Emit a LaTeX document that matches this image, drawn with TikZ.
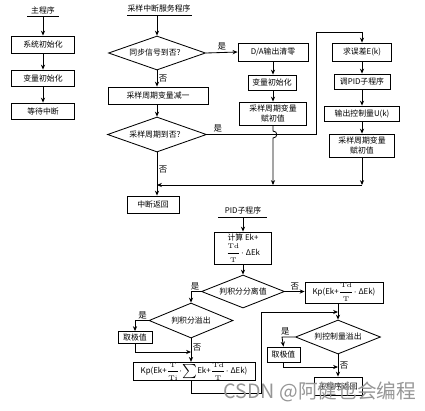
\documentclass[tikz,border=0pt]{standalone}
\usepackage{fontspec}
\newfontfamily\cjk{Noto Sans CJK SC}
\usepackage{tikz}
\usetikzlibrary{
    arrows.meta,
    calc,
    shapes.geometric
}
\newlength\pix
\setlength\pix{0.025cm}
\newcommand\fr[2]{{\fontsize{4.8}{5}\selectfont$\displaystyle\frac{\mathrm{#1}}{\mathrm{#2}}$}}
\definecolor{wmgray}{RGB}{150,150,150}
\tikzset{
    >={Stealth[length=3.5pt, width=3pt]},
    every node/.style={font=\cjk\fontsize{5.6}{7}\selectfont},
    box/.style args={#1x#2}{draw, line width=0.6pt, minimum width=#1\pix, minimum height=#2\pix, inner sep=0pt, align=center},
    dia/.style args={#1x#2}{draw, line width=0.6pt, diamond, aspect=2.5, minimum width=#1\pix, minimum height=#2\pix, inner sep=0pt},
    lbl/.style={font=\cjk\fontsize{6}{7}\selectfont, inner sep=1pt}
}

\begin{document}
\begin{tikzpicture}[x=\pix, y=-\pix, line width=0.6pt]
            \useasboundingbox (0,0) rectangle (425,410);

            % Main program
            \node (mtitle) at (43,10) {主程序};
            \coordinate (mtl) at (27,16);
            \coordinate (mtr) at (59,16);
            \coordinate (mtop) at (43,16);
            \node[box=63x17] (m1) at (43,44.5) {系统初始化};
            \node[box=63x16] (m2) at (43,78) {变量初始化};
            \node[box=63x16] (m3) at (43,111) {等待中断};
            \draw (mtl) -- (mtr);
            \draw[->] (mtop) -- (m1);
            \draw[->] (m1) -- (m2);
            \draw[->] (m2) -- (m3);

            % Sampling interrupt
            \node (stitle) at (159,9) {采样中断服务程序};
            \coordinate (stl) at (127,15);
            \coordinate (str) at (192,15);
            \coordinate (stop) at (157,15);
            \node[dia=97x34] (d1) at (157,53) {同步信号到否？};
            \node[box=100x17] (s1) at (158,95.5) {采样周期变量减一};
            \node[dia=99x35] (d2) at (157,134.5) {采样周期到否？};
            \node[box=70x18] (a1) at (273,52) {D/A输出清零};
            \node[box=48x15] (a2) at (272,82.5) {变量初始化};
            \node[box=67x23] (a3) at (273,113.5) {采样周期变量\\赋初值};
            \node[box=59x18] (b1) at (362,52) {求误差E(k)};
            \node[box=56x15] (b2) at (362,81.5) {调PID子程序};
            \node[box=75x15] (b3) at (362,113.5) {输出控制量U(k)};
            \node[box=65x23] (b4) at (362,145.5) {采样周期变量\\赋初值};
            \node[box=52x17] (ret) at (153,204.5) {中断返回};
            \coordinate (yup) at (316,32);
            \coordinate (jn) at (157,185);
            \coordinate (br1) at (273,131);
            \coordinate (br2) at (273,138);
            \draw (stl) -- (str);
            \draw[->] (stop) -- (d1.north);
            \draw[->] (d1.south) -- node[lbl, right] (no1) {否} (d1.south |- s1.north);
            \draw[->] (d1.east) -- node[lbl, above] (yes1) {是} (a1.west);
            \draw[->] (s1.south -| d2.north) -- (d2.north);
            \draw[->] (a1.south) -- (a1.south |- a2.north);
            \draw[->] (a2.south -| a1.south) -- (a1.south |- a3.north);
            \draw[->] (d2.east) -- node[lbl, above, pos=0.1] (yes2) {是} (d2.east -| yup) -- (yup) -| (b1.north);
            \draw[->] (b1) -- (b2);
            \draw[->] (b2) -- (b3);
            \draw[->] (b3) -- (b4);
            \draw[->] (a3.south) -- (br1) .. controls ($(br1)+(5,0)$) and ($(br2)+(5,0)$) .. (br2) -- (br2 |- jn);
            \draw[->] (b4.south) -- (b4.south |- jn);
            \draw[->] (b4.south |- jn) -- (jn);
            \draw[->] (d2.south) -- node[lbl, right, pos=0.4] (no2) {否} (d2.south |- ret.north);

            % PID subroutine
            \node (ptitle) at (243,210) {PID子程序};
            \coordinate (ptl) at (218,217);
            \coordinate (ptr) at (267,217);
            \coordinate (ptop) at (243,217);
            \node[box=57x32] (p1) at (243,248) {计算 Ek+\\[1pt]\fr{Td}{T}$\cdot\,$ΔEk};
            \node[dia=83x33] (d3) at (243,291.5) {判积分分离值};
            \node[box=78x21] (k1) at (344,292.5) {Kp(Ek+\fr{Td}{T}$\cdot\,$ΔEk)};
            \node[dia=84x35] (d4) at (191,320.5) {判积分溢出};
            \node[box=34x12] (x1) at (135,337.5) {取极值};
            \node[box=122x18] (k2) at (194,371.5) {Kp(Ek+\fr{T}{Ti}$\cdot\!\sum$Ek+\fr{Td}{T}$\cdot\,$ΔEk)};
            \node[dia=85x34] (d5) at (338,337) {判控制量溢出};
            \node[box=33x15] (x2) at (283.5,354.5) {取极值};
            \node[box=48x18] (pret) at (338,386) {子程序返回};
            \coordinate (c3) at (191,291.5);
            \coordinate (c4) at (135,320.5);
            \coordinate (m4) at (191,352);
            \coordinate (c5) at (282,337);
            \coordinate (m5) at (338,367);
            \coordinate (l1) at (191,393);
            \coordinate (l2) at (261,393);
            \coordinate (l3) at (261,312);
            \draw (ptl) -- (ptr);
            \draw[->] (ptop) -- (p1.north);
            \draw[->] (p1) -- (d3);
            \draw[->] (d3.east) -- node[lbl, above] (no3) {否} (d3.east -| k1.west);
            \draw[->] (d3.west) -- node[lbl, above, pos=0.6] (yes3) {是} (c3) -- (d4.north);
            \draw[->] (d4.west) -- node[lbl, above, pos=0.45] (yes4) {是} (c4) -- (x1.north);
            \draw[->] (x1.south) |- (m4);
            \draw[->] (d4.south) -- node[lbl, right, pos=0.4] (no4) {否} (d4.south |- k2.north);
            \draw[->] (k2.south -| l1) -- (l1) -- (l2) -- (l3) -- (l3 -| d5.north);
            \draw[->] (d5.north |- k1.south) -- (d5.north);
            \draw[->] (d5.west) -- node[lbl, above, pos=0.75] (yes5) {是} (c5) -- (x2.north);
            \draw[->] (x2.south) |- (m5);
            \draw[->] (d5.south) -- node[lbl, right] (no5) {否} (pret.north);

            % Watermark
            \node[text=wmgray, font=\cjk\fontsize{14}{16}\selectfont] (wm) at (320,392) {CSDN @阿健也会编程};
        \end{tikzpicture}
\end{document}
